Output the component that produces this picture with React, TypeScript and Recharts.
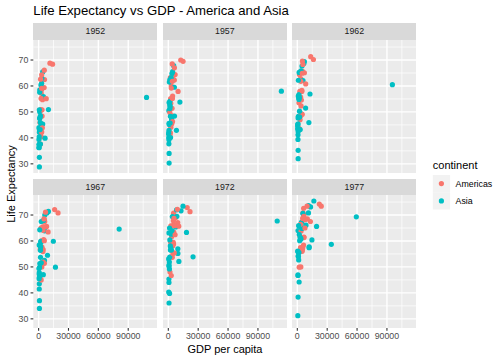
import React from "react";
import { CartesianGrid, Scatter, ScatterChart, XAxis, YAxis } from "recharts";

const YEARS = [1952, 1957, 1962, 1967, 1972, 1977];

const AMERICAS = [
  "Argentina", "Bolivia", "Brazil", "Canada", "Chile", "Colombia", "Costa Rica", "Cuba",
  "Dominican Republic", "Ecuador", "El Salvador", "Guatemala", "Haiti", "Honduras", "Jamaica",
  "Mexico", "Nicaragua", "Panama", "Paraguay", "Peru", "Puerto Rico", "Trinidad and Tobago",
  "United States", "Uruguay", "Venezuela",
];
// life expectancy per country, one value per year
const AMERICAS_LIFE = [
  [62.5, 64.4, 65.1, 65.6, 67.1, 68.5],
  [40.4, 41.9, 43.4, 45.0, 46.7, 50.0],
  [50.9, 53.3, 55.7, 57.6, 59.5, 61.5],
  [68.8, 70.0, 71.3, 72.1, 72.9, 74.2],
  [54.7, 56.1, 57.9, 60.5, 63.4, 67.1],
  [50.6, 55.1, 57.9, 60.0, 61.6, 63.8],
  [57.2, 60.0, 62.8, 65.4, 67.8, 70.8],
  [59.4, 62.3, 65.2, 68.3, 70.7, 72.6],
  [45.9, 49.8, 53.5, 56.8, 59.6, 61.8],
  [48.4, 51.4, 54.6, 56.7, 58.8, 61.3],
  [45.3, 48.6, 52.3, 55.9, 58.2, 56.7],
  [42.0, 44.1, 47.0, 50.0, 53.7, 56.0],
  [37.6, 40.7, 43.6, 46.2, 48.0, 49.9],
  [41.9, 44.7, 48.0, 50.9, 53.9, 57.4],
  [58.5, 62.6, 65.6, 67.5, 69.0, 70.1],
  [50.8, 55.2, 58.3, 60.1, 62.4, 65.0],
  [42.3, 45.4, 48.6, 51.9, 55.2, 57.5],
  [55.2, 59.2, 61.8, 64.1, 66.2, 68.7],
  [62.6, 63.2, 64.4, 65.0, 65.8, 66.4],
  [43.9, 46.3, 49.1, 51.4, 55.4, 58.4],
  [64.3, 68.5, 69.6, 71.1, 72.2, 73.4],
  [59.1, 61.8, 64.9, 65.4, 65.9, 68.3],
  [68.4, 69.5, 70.2, 70.8, 71.3, 73.4],
  [66.1, 67.0, 68.3, 68.5, 68.7, 69.5],
  [55.1, 57.9, 60.8, 63.5, 65.7, 67.5],
];
const AMERICAS_GDP = [
  [5911, 6857, 7133, 8053, 9443, 10079],
  [2677, 2128, 2181, 2587, 2980, 3548],
  [2109, 2487, 3337, 3430, 4986, 6660],
  [11367, 12490, 13462, 16077, 18971, 22091],
  [3940, 4316, 4519, 5107, 5494, 4757],
  [2144, 2324, 2493, 2679, 3265, 3816],
  [2627, 2990, 3461, 4162, 5119, 5717],
  [5587, 6093, 5181, 5690, 5305, 6381],
  [1398, 1544, 1662, 1654, 2190, 2681],
  [3522, 3781, 4087, 4579, 5280, 6680],
  [3048, 3422, 3776, 4359, 4520, 5139],
  [2428, 2617, 2750, 3243, 4031, 4880],
  [1840, 1726, 1796, 1452, 1654, 1874],
  [2195, 2220, 2292, 2538, 2529, 3203],
  [2899, 4756, 5246, 6125, 7434, 6650],
  [3478, 4132, 4582, 5755, 6809, 7675],
  [3112, 3457, 3635, 4643, 4689, 5487],
  [2480, 2961, 3536, 4421, 5365, 5352],
  [1952, 2046, 2148, 2299, 2523, 3248],
  [3759, 4245, 4957, 5788, 5938, 6281],
  [3082, 3907, 5108, 6930, 9123, 9771],
  [3023, 4100, 4997, 5622, 6619, 7900],
  [13990, 14847, 16173, 19530, 21806, 24073],
  [5717, 6151, 5603, 5445, 5703, 6504],
  [7690, 9803, 8423, 9541, 10506, 13144],
];

const ASIA = [
  "Afghanistan", "Bahrain", "Bangladesh", "Cambodia", "China", "Hong Kong, China", "India",
  "Indonesia", "Iran", "Iraq", "Israel", "Japan", "Jordan", "Korea, Dem. Rep.", "Korea, Rep.",
  "Kuwait", "Lebanon", "Malaysia", "Mongolia", "Myanmar", "Nepal", "Oman", "Pakistan",
  "Philippines", "Saudi Arabia", "Singapore", "Sri Lanka", "Syria", "Taiwan", "Thailand",
  "Vietnam", "West Bank and Gaza", "Yemen, Rep.",
];
const ASIA_LIFE = [
  [28.8, 30.3, 32.0, 34.0, 36.1, 38.4],
  [50.9, 53.8, 56.9, 59.9, 63.3, 65.6],
  [37.5, 39.3, 41.2, 43.5, 45.3, 46.9],
  [39.4, 41.4, 43.4, 45.4, 40.3, 31.2],
  [44.0, 50.5, 44.5, 58.4, 63.1, 64.0],
  [61.0, 64.8, 67.7, 70.0, 72.0, 73.6],
  [37.4, 40.2, 43.6, 47.2, 50.7, 54.2],
  [37.5, 39.9, 42.5, 46.0, 49.2, 52.7],
  [44.9, 47.2, 49.3, 52.5, 55.2, 57.7],
  [45.3, 48.4, 51.5, 54.5, 57.0, 60.4],
  [65.4, 67.8, 69.4, 70.8, 71.6, 73.1],
  [63.0, 65.5, 68.7, 71.4, 73.4, 75.4],
  [43.2, 45.7, 48.1, 51.6, 56.5, 61.1],
  [50.1, 54.1, 56.7, 59.9, 64.0, 67.2],
  [47.5, 52.7, 55.3, 57.7, 62.6, 64.8],
  [55.6, 58.0, 60.5, 64.6, 67.7, 69.3],
  [55.9, 59.5, 62.1, 63.9, 65.4, 66.1],
  [48.5, 52.1, 55.7, 59.4, 63.0, 65.3],
  [42.2, 45.2, 48.3, 51.3, 53.8, 55.5],
  [36.3, 41.9, 45.1, 49.4, 53.1, 56.1],
  [36.2, 37.7, 39.4, 41.5, 44.0, 46.7],
  [37.6, 40.1, 43.2, 47.0, 52.1, 57.4],
  [43.4, 45.6, 47.7, 49.8, 51.9, 54.0],
  [47.8, 51.3, 54.8, 56.4, 58.1, 60.1],
  [39.9, 42.9, 45.9, 49.9, 53.9, 58.7],
  [60.4, 63.2, 65.8, 67.9, 69.5, 70.8],
  [57.6, 61.5, 62.2, 64.3, 65.0, 65.9],
  [45.9, 48.3, 50.3, 53.7, 57.3, 61.2],
  [58.5, 62.4, 65.2, 67.5, 69.4, 70.6],
  [50.8, 53.6, 56.1, 58.3, 60.4, 62.5],
  [40.4, 42.9, 45.4, 47.8, 50.3, 55.8],
  [43.2, 45.7, 48.1, 51.6, 56.5, 60.8],
  [32.5, 34.0, 35.2, 37.0, 39.8, 44.2],
];
const ASIA_GDP = [
  [779, 821, 853, 836, 740, 786],
  [9867, 11636, 12753, 14805, 18269, 19340],
  [684, 662, 686, 721, 630, 660],
  [368, 434, 497, 524, 422, 525],
  [400, 576, 488, 613, 677, 741],
  [3054, 3629, 4693, 6198, 8316, 11186],
  [547, 590, 658, 700, 724, 813],
  [750, 859, 849, 762, 1111, 1383],
  [3035, 3290, 4187, 5906, 9613, 11889],
  [4130, 6229, 8342, 8931, 9576, 14688],
  [4087, 5385, 7105, 8393, 12786, 13306],
  [3217, 4318, 6577, 9848, 14779, 16610],
  [1547, 1887, 2348, 2742, 2110, 2853],
  [1088, 1571, 1622, 2144, 3702, 4106],
  [1031, 1488, 1536, 2029, 3031, 4657],
  [108382, 113523, 95458, 80895, 109348, 59265],
  [4835, 6090, 5714, 6006, 7486, 8659],
  [1831, 1810, 2037, 2278, 2849, 3828],
  [786, 912, 1056, 1226, 1421, 1648],
  [331, 350, 388, 349, 357, 371],
  [546, 598, 652, 676, 674, 695],
  [1828, 2243, 2925, 4721, 10618, 11848],
  [685, 747, 804, 943, 1050, 1176],
  [1273, 1548, 1650, 1814, 1990, 2373],
  [6460, 8157, 11626, 16904, 24837, 34168],
  [2315, 2843, 3675, 4977, 8597, 11210],
  [1083, 1072, 1074, 1136, 1213, 1348],
  [1643, 2117, 2194, 1882, 2571, 3195],
  [1207, 1508, 1823, 2644, 4062, 5597],
  [758, 793, 1002, 1296, 1524, 1961],
  [605, 676, 772, 637, 700, 714],
  [1516, 1827, 2198, 2650, 3133, 3682],
  [782, 804, 826, 862, 1265, 1830],
];

const X_TICKS = [0, 30000, 60000, 90000];
const X_MINOR = [15000, 45000, 75000, 105000];
const Y_TICKS = [30, 40, 50, 60, 70];
const Y_MINOR = [35, 45, 55, 65, 75];
const X_DOMAIN = [-5329, 119183];
const Y_DOMAIN = [26.47, 77.71];

const COLORS: Record<string, string> = { Americas: "#F8766D", Asia: "#00BFC4" };
const FONT = "'Liberation Sans', Arial, Helvetica, sans-serif";

// panel geometry (ggplot layout at 72dpi)
const COL_LEFT = [33.3, 162.8, 292.3];
const PANEL_W = 124;
const ROW_TOP = [39.5, 195];
const PANEL_H = 133;
const STRIP_H = 16.5;
const Y_AXIS_W = 33.3;
const X_AXIS_H = 22;

type Pt = { country: string; continent: string; gdp: number; life: number };

function pointsFor(yi: number): Pt[] {
  const am = AMERICAS.map((c, i) => ({ country: c, continent: "Americas", gdp: AMERICAS_GDP[i][yi], life: AMERICAS_LIFE[i][yi] }));
  const as = ASIA.map((c, i) => ({ country: c, continent: "Asia", gdp: ASIA_GDP[i][yi], life: ASIA_LIFE[i][yi] }));
  return [...am, ...as].sort((a, b) => (a.country < b.country ? -1 : 1));
}

const dot = (p: any) => <circle cx={p.cx} cy={p.cy} r={2.6} fill={COLORS[p.payload.continent]} />;

function Panel({ yi }: { yi: number }) {
  const row = Math.floor(yi / 3);
  const col = yi % 3;
  const showY = col === 0;
  const showX = row === 1;
  const left = showY ? COL_LEFT[col] - Y_AXIS_W : COL_LEFT[col];
  const w = PANEL_W + (showY ? Y_AXIS_W : 0);
  const h = PANEL_H + (showX ? X_AXIS_H : 0);
  const tickStyle = { fontSize: 8.8, fill: "#4D4D4D", fontFamily: FONT };
  return (
    <>
      <div
        style={{
          position: "absolute",
          left: COL_LEFT[col],
          top: ROW_TOP[row] - STRIP_H,
          width: PANEL_W,
          height: STRIP_H,
          background: "#D9D9D9",
          color: "#1A1A1A",
          fontSize: 8.8,
          fontFamily: FONT,
          lineHeight: `${STRIP_H}px`,
          textAlign: "center",
        }}
      >
        {YEARS[yi]}
      </div>
      <div style={{ position: "absolute", left, top: ROW_TOP[row] }}>
        <ScatterChart width={w} height={h} margin={{ top: 0, right: 0, bottom: 0, left: 0 }}>
          <CartesianGrid
            fill="#EBEBEB"
            fillOpacity={1}
            stroke="#FFFFFF"
            strokeWidth={0.7}
            horizontalValues={Y_MINOR}
            verticalValues={X_MINOR}
          />
          <CartesianGrid stroke="#FFFFFF" strokeWidth={1.4} horizontalValues={Y_TICKS} verticalValues={X_TICKS} />
          <XAxis
            type="number"
            dataKey="gdp"
            domain={X_DOMAIN}
            ticks={X_TICKS}
            hide={!showX}
            height={X_AXIS_H}
            axisLine={false}
            tickSize={2.75}
            tickMargin={2.2}
            tickLine={{ stroke: "#333333", strokeWidth: 1.1 }}
            tick={tickStyle}
            interval={0}
          />
          <YAxis
            type="number"
            dataKey="life"
            domain={Y_DOMAIN}
            ticks={Y_TICKS}
            hide={!showY}
            width={Y_AXIS_W}
            axisLine={false}
            tickSize={2.75}
            tickMargin={2.2}
            tickLine={{ stroke: "#333333", strokeWidth: 1.1 }}
            tick={tickStyle}
            interval={0}
          />
          <Scatter data={pointsFor(yi)} shape={dot} isAnimationActive={false} />
        </ScatterChart>
      </div>
    </>
  );
}

export default function App() {
  return (
    <div style={{ position: "absolute", left: 0, top: 0, width: 504, height: 360, background: "#FFFFFF", fontFamily: FONT }}>
      <svg width={504} height={360} style={{ position: "absolute", left: 0, top: 0 }}>
        <text x={33.3} y={15} fontSize={13.2} fill="#000">
          Life Expectancy vs GDP - America and Asia
        </text>
        <text x={225} y={353} fontSize={11} fill="#000" textAnchor="middle">
          GDP per capita
        </text>
        <text x={14.5} y={184} fontSize={11} fill="#000" textAnchor="middle" transform="rotate(-90 14.5 184)">
          Life Expectancy
        </text>
        <text x={432.8} y={168.5} fontSize={11} fill="#000">
          continent
        </text>
        {["Americas", "Asia"].map((c, i) => (
          <g key={c}>
            <rect x={432.8} y={175 + i * 17.28} width={17.28} height={17.28} fill="#F2F2F2" />
            <circle cx={441.4} cy={183.6 + i * 17.28} r={2.6} fill={COLORS[c]} />
            <text x={455.6} y={186.7 + i * 17.28} fontSize={8.8} fill="#000">
              {c}
            </text>
          </g>
        ))}
      </svg>
      {YEARS.map((_, yi) => (
        <Panel key={yi} yi={yi} />
      ))}
    </div>
  );
}
